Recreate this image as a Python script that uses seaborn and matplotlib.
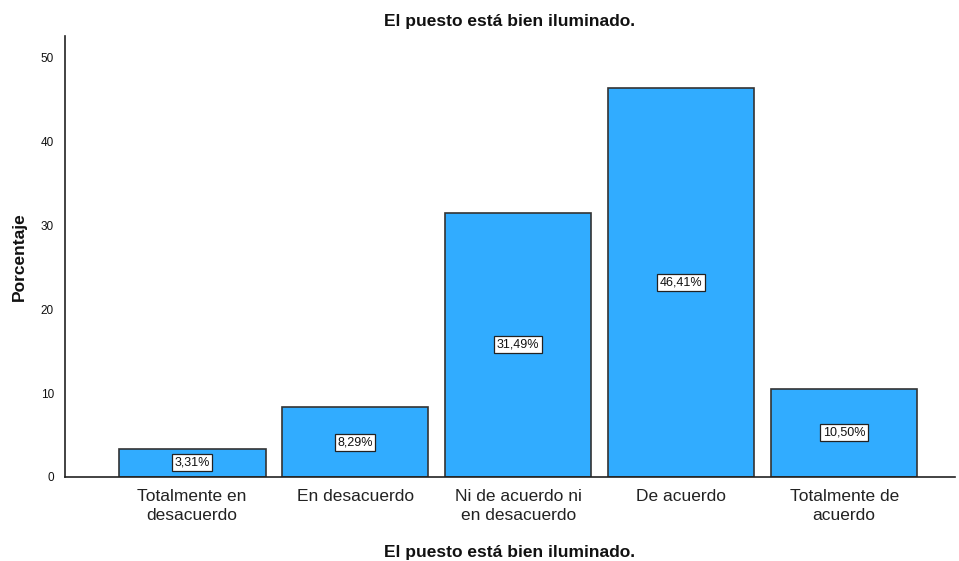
import matplotlib
matplotlib.use("Agg")
import matplotlib.pyplot as plt
import seaborn as sns
import pandas as pd

categories = ["Totalmente en\ndesacuerdo", "En desacuerdo", "Ni de acuerdo ni\nen desacuerdo",
              "De acuerdo", "Totalmente de\nacuerdo"]
percentages = [3.31, 8.29, 31.49, 46.41, 10.50]
y_ticks = [0, 10, 20, 30, 40, 50]
title = "El puesto está bien iluminado."

sns.set_style("white")
plt.rcParams["font.family"] = ["Liberation Sans", "DejaVu Sans"]

df = pd.DataFrame({"cat": categories, "pct": percentages})

fig = plt.figure(figsize=(9.59, 5.61), dpi=100)
ax = fig.add_axes([0.0678, 0.150, 0.928, 0.786])

sns.barplot(data=df, x="cat", y="pct", color="#31ACFF", saturation=1,
            edgecolor="#333333", linewidth=1.2, width=0.9, ax=ax)

for i, v in enumerate(percentages):
    ax.text(i, v / 2, f"{v:.2f}%".replace(".", ","), ha="center", va="center",
            fontsize=9, color="#111111",
            bbox=dict(boxstyle="square,pad=0.2", facecolor="white", edgecolor="#222222", linewidth=0.9))

ax.set_xlim(-0.78, 4.68)
ax.set_ylim(0, 52.6)
ax.set_yticks(y_ticks)
ax.tick_params(axis="y", labelsize=8.5, length=0, pad=8, colors="#111111")
ax.tick_params(axis="x", labelsize=12.5, length=0, pad=9, colors="#222222")
for lbl in ax.get_xticklabels():
    lbl.set_linespacing(1.3)

for s in ["top", "right"]:
    ax.spines[s].set_visible(False)
for s in ["left", "bottom"]:
    ax.spines[s].set_color("#222222")
    ax.spines[s].set_linewidth(1.2)

ax.set_ylabel("Porcentaje", fontsize=12.5, fontweight="bold", labelpad=10, color="#111111")
ax.set_xlabel(title, fontsize=12.5, fontweight="bold", labelpad=16, color="#111111")
ax.set_title(title, fontsize=12.5, fontweight="bold", pad=7, color="#111111")

fig.savefig("out.png", dpi=100)
